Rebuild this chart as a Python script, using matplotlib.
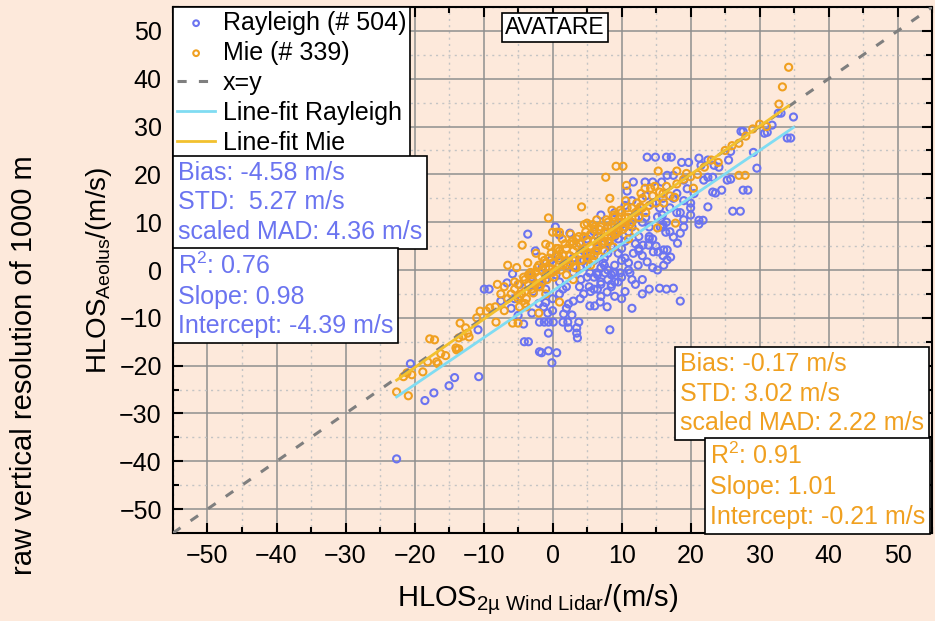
import matplotlib
matplotlib.use("Agg")
import matplotlib.pyplot as plt
import numpy as np

plt.rcParams['font.family'] = ['Liberation Sans', 'DejaVu Sans']
plt.rcParams['mathtext.fontset'] = 'custom'
plt.rcParams['mathtext.rm'] = 'Liberation Sans'
plt.rcParams['mathtext.it'] = 'Liberation Sans'
plt.rcParams['mathtext.default'] = 'regular'

# Rayleigh points (HLOS 2u lidar, HLOS Aeolus)
ray_x = [-22.6, -20.6, -18.5, -17.2, -15.0, -14.2, -10.7, -10.8,
         -9.9, -9.2, -6.6, -5.8, -4.2, -5.5, -6.0, -7.5, -4.8, -5.0,
         -4.1, -3.5, -1.9, -1.6, -0.6, 0.6, -0.1, -0.6, -1.9, -1.2, -0.6, 0.1,
         1.5, 2.2, 2.8, 3.8, 2.3, 3.5, 3.5, 3.6, -1.3, -0.7, 1.6, 0.0, -1.0,
         2.3, 5.4, 6.1, 5.3, 3.9, 4.1,
         -3.6, -2.5, 0.4, 1.0, -1.5, -0.9, -0.2, 2.5, 3.9, -3.0, -2.0, -1.0,
         0.5, 1.5, 1.0, -2.8, 0.8, 2.0, 3.0, 3.0, 4.0,
         6.9, 7.9, 8.3, 6.5, 7.0, 8.0, 9.0, 10.0, 7.6, 8.8, 9.8, 11.2, 6.4, 5.4,
         5.5, 6.5, 7.5, 8.5, 9.5, 10.5, 11.7, 12.4, 13.7, 11.0, 10.0, 12.0,
         9.0, 8.0, 6.0, 5.0, 4.5, 7.0, 9.0, 10.5, 11.5, 12.5, 10.8, 11.7,
         13.4, 14.5, 15.8, 13.5, 14.5, 10.5, 12.0, 9.0, 11.5, 13.0, 7.3, 8.0,
         7.9, 14.0, 15.5, 16.5, 18.5, 17.5,
         13.7, 14.9, 16.5, 17.2, 18.7, 19.7, 21.2, 22.5, 21.5, 23.4, 24.1,
         16.6, 17.5, 19.0, 21.9, 22.5, 23.2, 15.2, 15.9, 15.6, 16.4, 17.5,
         18.5, 18.1, 17.1, 16.6, 16.1, 15.2, 14.6, 15.3, 16.1, 16.6, 13.1,
         13.9, 22.5, 21.2, 21.8, 21.2, 23.2, 23.6, 24.5, 25.3, 25.8, 18.0,
         19.0, 20.0, 17.0, 16.0, 19.5, 20.5, 14.0, 13.0, 12.5, 19.0, 20.0,
         32.7, 33.1, 34.9, 31.8, 31.1, 30.7, 34.0, 34.5, 27.3, 27.6, 29.1,
         29.6, 25.5, 25.8, 27.6, 28.3, 26.1, 27.2,
         4.5, 6.0, 8.5, 10.0, 11.0, 2.0, 5.0, 7.0, 9.5, 12.5, 14.0, 16.0,
         5.0, 6.0, 7.0, 8.0, 9.0, 10.0, 11.0, 12.0, 13.0, 14.0, 15.0, 16.0,
         17.0, 18.0, 19.0, 20.0, 6.5, 7.5, 8.5, 9.5, 10.5, 11.5, 12.5, 13.5,
         14.5, 15.5, 16.5, 17.5, 18.5, 4.0, 5.5, 7.0, 8.5, 10.0, 11.5, 13.0,
         14.5, 16.0, 2.0, 3.0, 1.0, 0.0, -1.0, -2.0, -3.0, 4.5, 6.0, 7.5, 9.0]
ray_y = [-39.5, -19.6, -27.3, -25.7, -24.2, -22.5, -22.3, -12.5,
         -4.0, -4.0, -2.7, -0.8, -11.3, -6.0, -8.0, -6.5, -3.0, -9.5,
         -15.0, -15.0, -17.1, -17.3, -16.9, -17.3, -19.4, -13.2, -10.9, -10.9, -10.9, -10.9,
         -10.9, -10.9, -9.4, -10.9, -12.1, -12.1, -13.2, -14.2, -7.7, -9.0, -9.2, -6.0, -6.8,
         -7.1, -7.5, -7.5, -3.5, -3.5, -2.0,
         7.5, 4.0, 9.0, 7.3, 0.6, 1.5, 2.1, 7.7, 5.6, -1.5, -3.0, -2.0,
         -1.0, -4.0, -2.5, -4.5, 3.0, 1.0, -0.5, 2.5, 0.5,
         -6.7, -7.7, -12.5, -1.0, 0.5, -2.0, 1.0, -1.5, -0.6, -0.6, -0.6, -0.6, -0.6, -0.6,
         3.0, 4.5, 2.5, 5.0, 3.5, 6.0, 3.5, 1.0, 1.7, 8.0, 9.5, 11.0,
         7.0, 9.0, 8.0, 6.5, 4.0, 11.5, 12.0, 13.5, 14.5, 12.5, 16.5, 18.4,
         18.4, 18.4, 18.4, 15.5, 14.0, -4.5, -3.0, -5.5, -8.0, -2.0, 1.5, 0.0,
         -4.6, -4.0, -3.8, -4.0, -6.5, -3.8,
         23.6, 23.6, 23.6, 23.6, 22.5, 22.5, 23.4, 23.0, 21.9, 21.9, 21.5,
         19.8, 19.8, 18.8, 18.8, 19.4, 19.4, 11.1, 11.5, 9.0, 7.9, 6.9,
         7.7, 5.6, 2.7, 2.1, 1.0, 0.0, 3.8, 3.8, 4.2, 4.2, 5.2,
         5.2, 13.2, 10.4, 10.4, 9.6, 16.3, 16.1, 16.7, 18.8, 19.0, 16.0,
         14.5, 13.0, 13.0, 15.0, 17.0, 16.0, 9.0, 10.0, 7.0, 10.5, 11.5,
         32.8, 32.8, 32.0, 30.3, 28.8, 28.6, 27.6, 27.6, 29.0, 29.0, 24.6,
         21.3, 23.0, 24.8, 16.7, 16.7, 12.3, 12.3,
         -5.0, -4.0, -3.0, 2.0, 1.5, -8.0, -1.5, -2.5, -2.5, 4.5, 6.5, 9.0,
         1.0, 2.0, -3.0, 3.5, -2.5, 4.5, 0.0, 5.5, 3.0, 7.0, 5.0, 9.5,
         8.0, 12.0, 9.0, 14.0, -4.0, 5.5, -1.0, 6.5, 2.5, 9.0, 4.0, 11.0,
         6.5, 13.0, 10.0, 15.0, 12.0, -6.0, -4.5, -5.5, -3.5, -6.0, -2.0, -5.0,
         0.5, 3.0, -3.5, -6.5, -5.0, -8.5, -4.0, -7.0, -9.0, 2.0, -1.5, 1.0, -0.5]

# Mie points
mie_x = [-22.6, -20.9, -20.4, -21.1, -21.6, -18.8, -18.1, -16.6, -16.2, -15.5,
         -16.8, -17.8, -17.1, -14.0, -13.6, -13.9, -13.4, -12.6, -12.3, -13.0,
         -13.6, -12.1, -10.5, -9.6, -9.1, -8.3, -8.2, -5.8, -5.0, -4.8, -3.8,
         -11.0, -7.0, -6.5, -7.5,
         -6.0, -5.5, -5.0, -5.0, -4.5, -4.0, -4.0, -3.5, -3.5, -3.0, -3.0, -2.5,
         -2.5, -2.0, -2.0, -1.5, -1.5, -1.0, -1.0, -0.5, -0.5, 0.0, 0.0, 0.5,
         0.5, 1.0, 1.0, 1.5, 1.5, 2.0, 2.0, 2.5, 2.5, 3.0, 3.0, 3.5, 3.5, 4.0,
         4.0, 4.5, 4.5, 5.0, 5.0, 5.5, 5.5, 6.0, 6.0, 6.5, 6.5, 7.0, 7.0, 7.5,
         7.5, 8.0, 8.0, 8.5, 8.5, 9.0, 9.0, 9.5, 9.5, 10.0, 10.0, 10.5, 10.5,
         11.0, 11.5, 11.5, 12.0, 12.5, 13.0, 13.0, 14.0, 14.5, 15.0, 16.0,
         16.5, 17.0, 18.0, 19.0, 20.0, 21.0, 22.0, 23.0, 24.0, 25.0, 26.0,
         27.0, 28.0, 29.0, 30.0, 31.0,
         -0.6, -4.4, -1.0, 0.0, 0.6, 1.0, -1.5, 4.2, 5.0, 6.1, 9.2, 10.2, 7.7,
         8.3, 15.3, 18.0, 19.4, 20.4, 27.0, 27.9, 10.7, 13.4, 14.2, 15.5, 17.7,
         16.1, 12.7, 15.2, 8.8, 17.8, 1.0, -2.0, 3.0, 5.5, 2.0, 33.3, 32.8,
         34.2, 6.0, 12.0, 11.0, 7.5, -6.5, -8.0, -7.0,
         -3.0, -1.0, 1.0, 2.5, 4.0, 5.5, 3.0, 0.5, -2.0, 6.5, 8.0, 9.0,
         -5.5, -4.8, -4.2, -3.8, -3.2, -2.8, -2.2, -1.8, -1.2, -0.8, -0.2, 0.2,
         0.8, 1.2, 1.8, 2.2, 2.8, 3.2, 3.8, 4.2, 4.8, 5.2, 5.8, 6.2, 6.8, 7.2,
         7.8, 8.2, 8.8, 9.2, 9.8, 10.2, 10.8, 11.2, 12.2, 13.5, -5.2, -3.6,
         -2.4, -0.4, 1.4, 2.6, 4.6, 6.4, 8.6, 10.6, 12.8, 14.8, -4.0, -1.0,
         3.4, 5.8]
mie_y = [-25.5, -26.3, -21.9, -21.5, -22.3, -21.3, -19.2, -19.6, -17.5, -17.9,
         -19.2, -14.4, -14.6, -16.3, -16.5, -16.7, -11.1, -12.1, -13.2, -13.8,
         -14.2, -14.0, -8.6, -8.6, -7.9, -7.7, -10.9, -11.1, -11.1, -7.7, -7.7,
         -10.0, -8.5, -6.0, -5.0,
         -5.0, -4.0, -6.0, -3.0, -5.0, -2.0, -4.5, -3.0, -1.0, -4.0, -2.0, -0.5,
         -3.0, -1.5, 1.0, -2.5, 0.0, 1.5, -1.0, 0.5, 2.5, -0.5, 1.5, 3.0,
         0.0, 2.0, 4.0, 1.0, 3.0, 4.5, 2.0, 3.0, 5.5, 4.0, 2.0, 5.0, 6.5, 3.5,
         5.5, 7.0, 4.5, 6.0, 3.5, 5.0, 7.5, 6.0, 8.5, 5.0, 7.0, 7.0, 9.0, 6.0,
         8.0, 8.0, 10.0, 7.0, 9.0, 9.0, 11.0, 8.0, 10.0, 10.0, 12.0, 9.0, 11.0,
         11.0, 10.0, 13.0, 12.0, 11.0, 13.0, 15.0, 13.5, 15.5, 14.0, 16.0,
         17.5, 15.5, 18.0, 19.0, 19.5, 20.0, 21.5, 23.0, 22.5, 25.0, 26.0,
         26.5, 28.0, 29.5, 30.5, 30.0,
         10.9, 5.2, 5.4, 7.9, 7.9, 7.9, 2.7, 13.2, 9.8, 9.0, 21.7, 21.7, 19.4,
         15.0, 20.7, 20.7, 20.2, 17.1, 19.8, 19.8, 17.7, 17.1, 17.1, 16.3, 15.2,
         14.0, 13.2, 8.8, 4.8, 9.8, -6.7, -9.0, -2.0, 1.0, -1.0, 38.3, 34.7,
         42.4, 3.0, 8.0, 6.5, 4.0, 1.0, -3.0, -3.5,
         -1.0, 0.5, 2.5, 1.5, 2.0, 3.5, 5.5, 4.5, -3.5, 4.0, 6.0, 7.5,
         -2.5, -5.5, -1.5, -6.0, -0.5, -4.8, 0.5, -3.5, 2.0, -2.0, 3.5, -1.5,
         4.5, 0.0, 5.5, 1.0, 6.0, 0.5, 7.0, 2.0, 8.0, 2.5, 9.5, 4.0, 8.5, 5.5,
         10.5, 6.0, 11.5, 7.5, 12.5, 8.5, 13.0, 9.5, 14.0, 12.0, 0.5, 1.5,
         3.5, 5.0, 6.5, 7.5, 9.5, 10.5, 12.5, 14.5, 16.0, 17.5, -7.0, -5.0,
         0.5, 2.0]

ray_stats = ["Bias: -4.58 m/s", "STD:  5.27 m/s", "scaled MAD: 4.36 m/s"]
ray_fit = {"r2": 0.76, "slope": 0.98, "intercept": -4.39}
mie_stats = ["Bias: -0.17 m/s", "STD: 3.02 m/s", "scaled MAD: 2.22 m/s"]
mie_fit = {"r2": 0.91, "slope": 1.01, "intercept": -0.21}

bg = '#FDE9DB'
c_ray = '#6B74F0'
c_mie = '#F0A020'
fs = 18

fig = plt.figure(figsize=(9.35, 6.21), dpi=100, facecolor=bg)
ax = fig.add_axes([0.185, 0.1417, 0.812, 0.847])
ax.set_facecolor(bg)

ax.scatter(ray_x, ray_y, s=26, facecolors='none', edgecolors=c_ray,
           linewidths=1.5, label='Rayleigh (# 504)', zorder=3)
ax.scatter(mie_x, mie_y, s=26, facecolors='none', edgecolors=c_mie,
           linewidths=1.5, label='Mie (# 339)', zorder=4)

ax.axline((0, 0), slope=1, color='#7f7f7f', lw=2.2, dashes=(3, 4),
          label='x=y', zorder=5)

rx = np.array([min(ray_x), max(ray_x)])
ax.plot(rx, ray_fit["slope"] * rx + ray_fit["intercept"], color='#80DCF2',
        lw=2, label='Line-fit Rayleigh', zorder=6)
mx = np.array([min(mie_x), max(mie_x)])
ax.plot(mx, mie_fit["slope"] * mx + mie_fit["intercept"], color='#F2C12E',
        lw=2, label='Line-fit Mie', zorder=6)

ax.set_xlim(-55, 55)
ax.set_ylim(-55, 55)
ax.set_xticks(np.arange(-50, 51, 10))
ax.set_yticks(np.arange(-50, 51, 10))
ax.set_xticks(np.arange(-55, 56, 5), minor=True)
ax.set_yticks(np.arange(-55, 56, 5), minor=True)
ax.grid(which='major', color='#8f8f8f', lw=1.1, zorder=0)
ax.grid(which='minor', color='#c4c4c4', lw=1.0, ls=(0, (1.5, 3)), zorder=0)
ax.set_axisbelow(True)
ax.tick_params(which='both', direction='in', top=True, right=True,
               width=1.5, labelsize=18, pad=8)
ax.tick_params(which='major', length=7)
ax.tick_params(which='minor', length=4)
for sp in ax.spines.values():
    sp.set_linewidth(1.5)

ax.set_xlabel('HLOS$_{2µ\\ Wind\\ Lidar}$/(m/s)', fontsize=21, labelpad=10)
ax.xaxis.label.set_x(0.48)
ax.set_ylabel('HLOS$_{Aeolus}$/(m/s)', fontsize=20, labelpad=4)
fig.text(0.026, 0.412, 'raw vertical resolution of 1000 m', rotation=90,
         fontsize=21, ha='center', va='center')

leg = ax.legend(loc='upper left', borderaxespad=0, fontsize=fs,
                fancybox=False, framealpha=1, edgecolor='black',
                handlelength=1.55, handletextpad=0.3, labelspacing=0.24,
                borderpad=0.15, markerscale=0.8)
leg.get_frame().set_linewidth(1.2)
leg.set_zorder(10)

box = dict(boxstyle='square,pad=0.2', facecolor='white', edgecolor='black', lw=1.2)
ax.text(0.006, 0.708, "\n".join(ray_stats), transform=ax.transAxes,
        color=c_ray, fontsize=fs, va='top', ha='left', linespacing=1.3,
        bbox=box, zorder=11)
ax.text(0.006, 0.533,
        "R$^2$: %.2f\nSlope: %.2f\nIntercept: %.2f m/s" % (
            ray_fit["r2"], ray_fit["slope"], ray_fit["intercept"]),
        transform=ax.transAxes, color=c_ray, fontsize=fs, va='top',
        ha='left', linespacing=1.3, bbox=box, zorder=11)
ax.text(0.668, 0.344, "\n".join(mie_stats), transform=ax.transAxes,
        color=c_mie, fontsize=fs, va='top', ha='left', linespacing=1.3,
        bbox=box, zorder=11)
ax.text(0.7075, 0.171,
        "R$^2$: %.2f\nSlope: %.2f\nIntercept: %.2f m/s" % (
            mie_fit["r2"], mie_fit["slope"], mie_fit["intercept"]),
        transform=ax.transAxes, color=c_mie, fontsize=fs, va='top',
        ha='left', linespacing=1.3, bbox=box, zorder=11)

ax.text(0.503, 0.983, 'AVATARE', transform=ax.transAxes, fontsize=16.5,
        ha='center', va='top', zorder=11,
        bbox=dict(boxstyle='square,pad=0.15', facecolor='white',
                  edgecolor='black', lw=1.2))

fig.savefig('out.png', dpi=100, facecolor=bg)
